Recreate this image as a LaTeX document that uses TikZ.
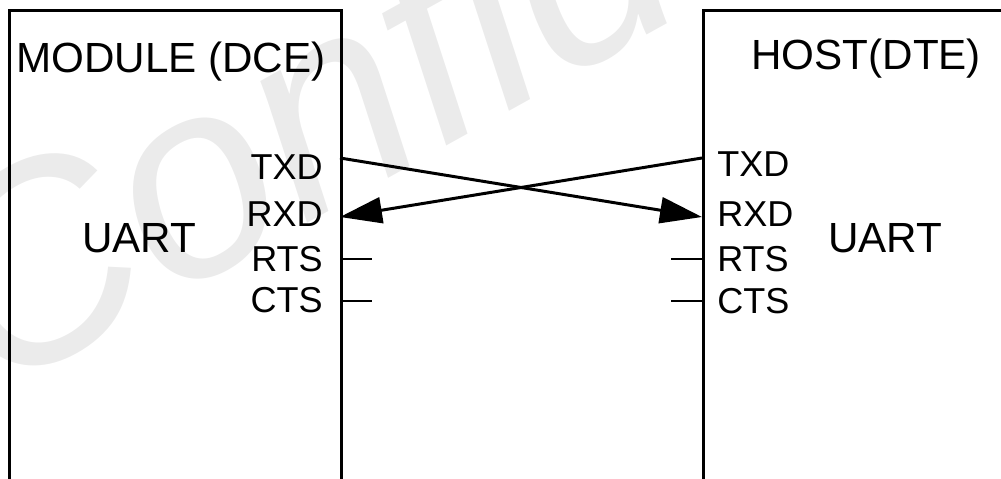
\documentclass[tikz,border=0pt]{standalone}
\usepackage{fontspec}
\setmainfont{Liberation Sans}
\usetikzlibrary{arrows.meta}

\begin{document}
\begin{tikzpicture}[
    every node/.style={inner sep=0pt},
    box/.style={draw, line width=1.8pt},
    title/.style={font=\fontsize{24}{28}\selectfont},
    pin/.style={font=\fontsize{20.5}{24}\selectfont},
    wire/.style={line width=1.7pt},
    sig/.style={wire, -{Triangle[length=8.4mm, width=5.2mm]}},
  ]
  \useasboundingbox (0,0) rectangle (20.02,9.58);
  \clip (0,0) rectangle (20.02,9.58);

  % --- watermark ---
  \node[anchor=base west, rotate=29, text=black!8,
        font=\fontsize{158}{180}\selectfont\itshape] (mark) at (-0.15,1.62) {Confidential};

  % --- boxes ---
  \node[box, anchor=north west, minimum width=6.64cm, minimum height=10cm] (module) at (0.16,9.40) {};
  \node[box, anchor=north west, minimum width=7cm, minimum height=10cm] (host) at (14.04,9.40) {};

  \node[title, anchor=base west] (mtitle) at (0.32,8.12) {MODULE (DCE)};
  \node[title, anchor=base west] (htitle) at (15.02,8.18) {HOST(DTE)};
  \node[title, anchor=base west] (muart) at (1.64,4.52) {UART};
  \node[title, anchor=base west] (huart) at (16.56,4.52) {UART};

  % --- pin labels ---
  \foreach \name/\y in {TXD/5.98, RXD/5.04, RTS/4.14, CTS/3.32} {
    \node[pin, anchor=base east] (m\name) at (6.46,\y) {\name};
  }
  \foreach \name/\y in {TXD/6.04, RXD/5.04, RTS/4.14, CTS/3.30} {
    \node[pin, anchor=base west] (h\name) at (14.34,\y) {\name};
  }

  % --- pins on the box edges ---
  \coordinate (mtx) at (6.80,6.42);
  \coordinate (mrx) at (6.80,5.24);
  \coordinate (htx) at (14.04,6.42);
  \coordinate (hrx) at (14.04,5.24);

  % crossed data lines
  \draw[sig] (mtx) -- (hrx);
  \draw[sig] (htx) -- (mrx);

  % unconnected handshake stubs
  \foreach \p/\y in {rts/4.40, cts/3.56} {
    \coordinate (m\p) at (6.80,\y);
    \coordinate (m\p end) at (7.44,\y);
    \coordinate (h\p) at (14.04,\y);
    \coordinate (h\p end) at (13.42,\y);
    \draw[wire] (m\p) -- (m\p end);
    \draw[wire] (h\p) -- (h\p end);
  }
\end{tikzpicture}
\end{document}
